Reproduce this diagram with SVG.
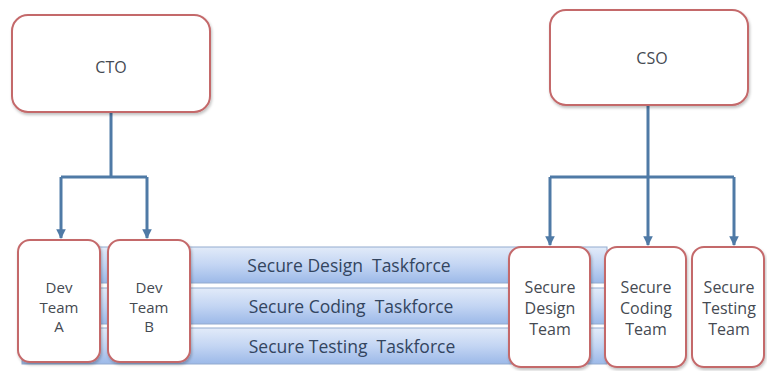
<svg xmlns="http://www.w3.org/2000/svg" width="767" height="371" viewBox="0 0 767 371">
  <defs>
    <linearGradient id="bandFill" x1="0" y1="0" x2="0" y2="1">
      <stop offset="0" stop-color="#e2ebf9"/>
      <stop offset="0.5" stop-color="#c3d5f3"/>
      <stop offset="1" stop-color="#9cb9e8"/>
    </linearGradient>
    <filter id="shadow" x="-10%" y="-10%" width="125%" height="125%">
      <feGaussianBlur in="SourceAlpha" stdDeviation="1.5"/>
      <feOffset dx="1" dy="2" result="b"/>
      <feComponentTransfer><feFuncA type="linear" slope="0.25"/></feComponentTransfer>
      <feMerge><feMergeNode/><feMergeNode in="SourceGraphic"/></feMerge>
    </filter>
    <marker id="arrow" viewBox="0 0 10 10" refX="9" refY="5" markerWidth="3.2" markerHeight="3.2" orient="auto">
      <path d="M0,0 L10,5 L0,10 z" fill="#4f7aa6"/>
    </marker>
  </defs>
  <style>
    .box { fill: #ffffff; stroke: #c4696b; stroke-width: 2; filter: url(#shadow); }
    .band { fill: url(#bandFill); stroke: #93abcf; stroke-width: 1; }
    .lbl { font-family: "Open Sans", "Liberation Sans", sans-serif; font-size: 16px; fill: #454a52; text-anchor: middle; }
    .dev { font-size: 15px; }
    .band-lbl { font-family: "Open Sans", "Liberation Sans", sans-serif; font-size: 17.5px; fill: #33455f; text-anchor: middle; white-space: pre; }
    .conn { fill: none; stroke: #4f7aa6; stroke-width: 3; }
  </style>

  <rect width="767" height="371" fill="#ffffff"/>

  <!-- taskforce bands run behind the team boxes -->
  <g id="taskforces">
    <g id="design-taskforce">
      <rect class="band" x="22" y="247" width="585" height="36"/>
      <text class="band-lbl" x="349" y="272" xml:space="preserve">Secure Design  Taskforce</text>
    </g>
    <g id="coding-taskforce">
      <rect class="band" x="22" y="288" width="585" height="36"/>
      <text class="band-lbl" x="351" y="313" xml:space="preserve">Secure Coding  Taskforce</text>
    </g>
    <g id="testing-taskforce">
      <rect class="band" x="22" y="328" width="585" height="36"/>
      <text class="band-lbl" x="352" y="353" xml:space="preserve">Secure Testing  Taskforce</text>
    </g>
  </g>

  <!-- reporting lines -->
  <g id="connectors">
    <path class="conn" d="M111,112 V177 M61,177 H147"/>
    <path class="conn" d="M61,177 V238" marker-end="url(#arrow)"/>
    <path class="conn" d="M147,177 V238" marker-end="url(#arrow)"/>
    <path class="conn" d="M648,105 V177 M550,177 H734"/>
    <path class="conn" d="M550,177 V245" marker-end="url(#arrow)"/>
    <path class="conn" d="M648,177 V245" marker-end="url(#arrow)"/>
    <path class="conn" d="M734,177 V245" marker-end="url(#arrow)"/>
  </g>

  <g id="cto">
    <rect class="box" x="12" y="15" width="198" height="97" rx="16"/>
    <text class="lbl" x="111" y="73">CTO</text>
  </g>
  <g id="cso">
    <rect class="box" x="550" y="10" width="198" height="95" rx="16"/>
    <text class="lbl" x="652" y="64">CSO</text>
  </g>

  <g id="dev-team-a">
    <rect class="box" x="18" y="240" width="82" height="122" rx="12"/>
    <text class="lbl dev" x="59" y="293">Dev</text>
    <text class="lbl dev" x="59" y="312.5">Team</text>
    <text class="lbl dev" x="59" y="332">A</text>
  </g>
  <g id="dev-team-b">
    <rect class="box" x="108" y="240" width="82" height="122" rx="12"/>
    <text class="lbl dev" x="149" y="293">Dev</text>
    <text class="lbl dev" x="149" y="312.5">Team</text>
    <text class="lbl dev" x="149" y="332">B</text>
  </g>

  <g id="secure-design-team">
    <rect class="box" x="509" y="247" width="81" height="120" rx="12"/>
    <text class="lbl" x="550" y="293">Secure</text>
    <text class="lbl" x="550" y="314">Design</text>
    <text class="lbl" x="550" y="335">Team</text>
  </g>
  <g id="secure-coding-team">
    <rect class="box" x="605" y="247" width="81" height="120" rx="12"/>
    <text class="lbl" x="646" y="293">Secure</text>
    <text class="lbl" x="646" y="314">Coding</text>
    <text class="lbl" x="646" y="335">Team</text>
  </g>
  <g id="secure-testing-team">
    <rect class="box" x="692" y="247" width="72" height="120" rx="12"/>
    <text class="lbl" x="729" y="293">Secure</text>
    <text class="lbl" x="729" y="314">Testing</text>
    <text class="lbl" x="729" y="335">Team</text>
  </g>
</svg>
